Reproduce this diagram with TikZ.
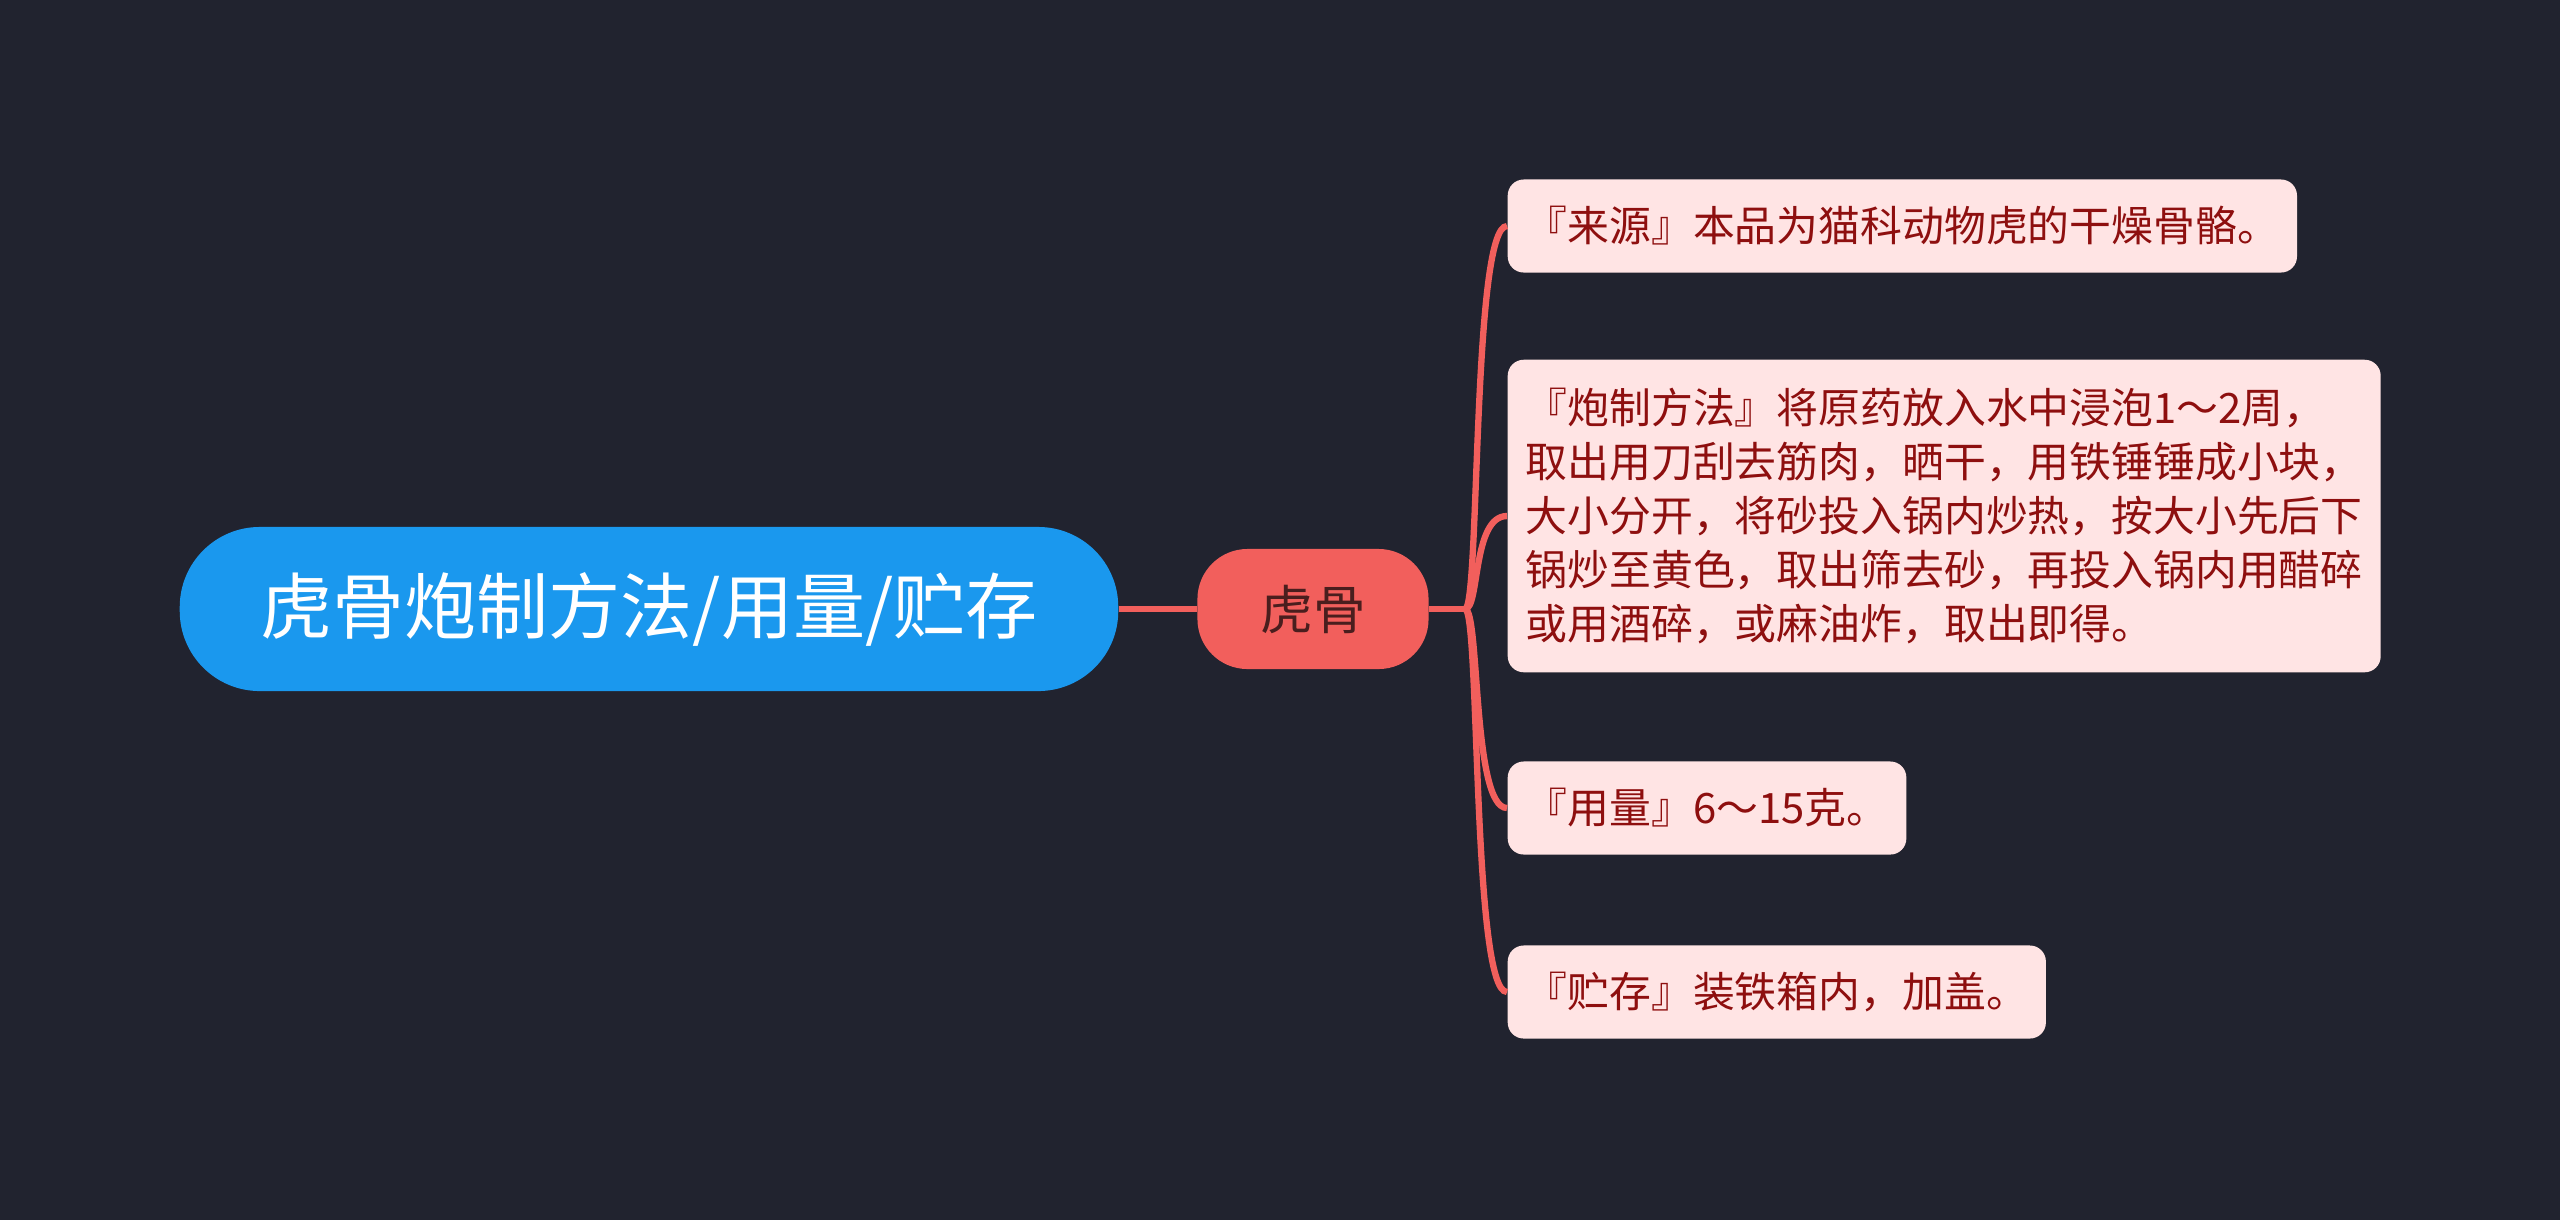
\documentclass[tikz,border=0pt]{standalone}
\usepackage{fontspec}
\setmainfont{Noto Sans CJK SC}
\usetikzlibrary{positioning}

\definecolor{bgdark}{HTML}{21232F}
\definecolor{rootblue}{HTML}{1A98EE}
\definecolor{hgred}{HTML}{F25F5C}
\definecolor{leafpink}{HTML}{FFE4E4}
\definecolor{leaftext}{HTML}{8E0F0F}
\definecolor{hgtext}{HTML}{4A1E1E}

\begin{document}
\begin{tikzpicture}[x=0.01cm, y=-0.01cm,
    root/.style={rectangle, rounded corners=0.8cm, fill=rootblue, text=white, minimum width=9.38cm, minimum height=1.64cm, font=\fontsize{20.5pt}{24pt}\selectfont},
    mid/.style={rectangle, rounded corners=0.5cm, fill=hgred, text=hgtext, minimum width=2.31cm, minimum height=1.2cm, font=\fontsize{15pt}{18pt}\selectfont},
    leaf/.style={rectangle, rounded corners=0.16cm, fill=leafpink, text=leaftext, anchor=west, minimum height=0.93cm, inner xsep=0.18cm, align=left, font=\fontsize{11.9pt}{15.4pt}\selectfont},
    branch/.style={hgred, line width=1.8pt}]
    \useasboundingbox (0,0) rectangle (2560,1220);
    \fill[bgdark] (0,0) rectangle (2560,1220);

    \node[root] (root) at (649,609) {虎骨炮制方法/用量/贮存};
    \node[mid] (hugu) at (1313,609) {虎骨};

    \node[leaf] (source) at (1507,226) {『来源』本品为猫科动物虎的干燥骨骼。};
    \node[leaf, inner ysep=0.28cm] (method) at (1507,516) {『炮制方法』将原药放入水中浸泡1～2周，\\取出用刀刮去筋肉，晒干，用铁锤锤成小块，\\大小分开，将砂投入锅内炒热，按大小先后下\\锅炒至黄色，取出筛去砂，再投入锅内用醋碎\\或用酒碎，或麻油炸，取出即得。};
    \node[leaf] (dose) at (1507,808) {『用量』6～15克。};
    \node[leaf] (store) at (1507,992) {『贮存』装铁箱内，加盖。};

    \coordinate (fork) at (1465,609);
    \coordinate (kick) at (1480,609);
    \coordinate (bend) at (1472,0);
    \draw[branch] (root) -- (hugu);
    \draw[branch] (hugu) -- (fork);
    \foreach \leafname in {source, method, dose, store}
        \draw[branch] (fork) .. controls (kick) and (bend |- \leafname.west) .. (\leafname.west);
\end{tikzpicture}
\end{document}
